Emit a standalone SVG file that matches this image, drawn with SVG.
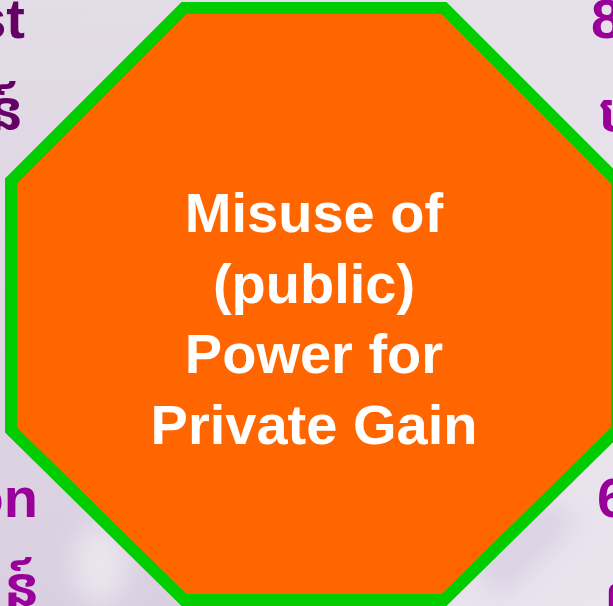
<svg xmlns="http://www.w3.org/2000/svg" width="613" height="606" viewBox="0 0 613 606">
  <defs>
    <linearGradient id="bg" x1="0" y1="0" x2="1" y2="1">
      <stop offset="0" stop-color="#e4dee8"/>
      <stop offset="0.5" stop-color="#e6e0ea"/>
      <stop offset="1" stop-color="#e9e4ee"/>
    </linearGradient>
    <linearGradient id="bgl" x1="0" y1="0" x2="0" y2="1">
      <stop offset="0" stop-color="#e2dce6"/>
      <stop offset="1" stop-color="#d4c8dc"/>
    </linearGradient>
    <filter id="blur" x="-50%" y="-50%" width="200%" height="200%">
      <feGaussianBlur stdDeviation="12"/>
    </filter>
  </defs>
  <style>
    .side { font-family: "Liberation Sans", Arial, sans-serif; font-weight: bold; font-size: 56px; }
    .kh { font-family: "Noto Sans Khmer", "Khmer OS", "Noto Sans", sans-serif; font-weight: bold; font-size: 54px; }
    .dark { fill: #660066; }
    .purple { fill: #990099; }
    .label { font-family: "Liberation Sans", Arial, sans-serif; font-weight: bold; font-size: 56px; fill: #ffffff; text-anchor: middle; }
  </style>
  <rect x="0" y="0" width="613" height="606" fill="url(#bg)"/>
  <rect x="0" y="0" width="200" height="606" fill="url(#bgl)" opacity="0.7"/>
  <ellipse cx="100" cy="565" rx="28" ry="40" fill="#f0edf3" opacity="0.7" filter="url(#blur)"/>
  <polygon points="470,560 540,500 580,520 500,600" fill="#cfc2da" opacity="0.5" filter="url(#blur)"/>

  <g id="background-text">
    <text class="side dark" x="25" y="38" text-anchor="end">st</text>
    <text class="kh dark" x="24" y="130" text-anchor="end">ន៍</text>
    <text class="side purple" x="591" y="38">8</text>
    <text class="kh purple" x="598" y="132">ប</text>
    <text class="side purple" x="38" y="517" text-anchor="end">on</text>
    <text class="kh purple" x="40" y="606" text-anchor="end">ន៍</text>
    <text class="side purple" x="597" y="517">6</text>
    <text class="kh purple" x="604" y="616">ព</text>
  </g>

  <g id="node-octagon">
    <polygon points="184,8 444,8 617,181 617,430 444,600 184,600 11,430 11,181" fill="#ff6600" stroke="#00cc00" stroke-width="12" stroke-linejoin="miter"/>
    <text class="label" x="314" y="232">Misuse of</text>
    <text class="label" x="314" y="303">(public)</text>
    <text class="label" x="314" y="373">Power for</text>
    <text class="label" x="314" y="444">Private Gain</text>
  </g>

  <g id="connectors"></g>
</svg>
